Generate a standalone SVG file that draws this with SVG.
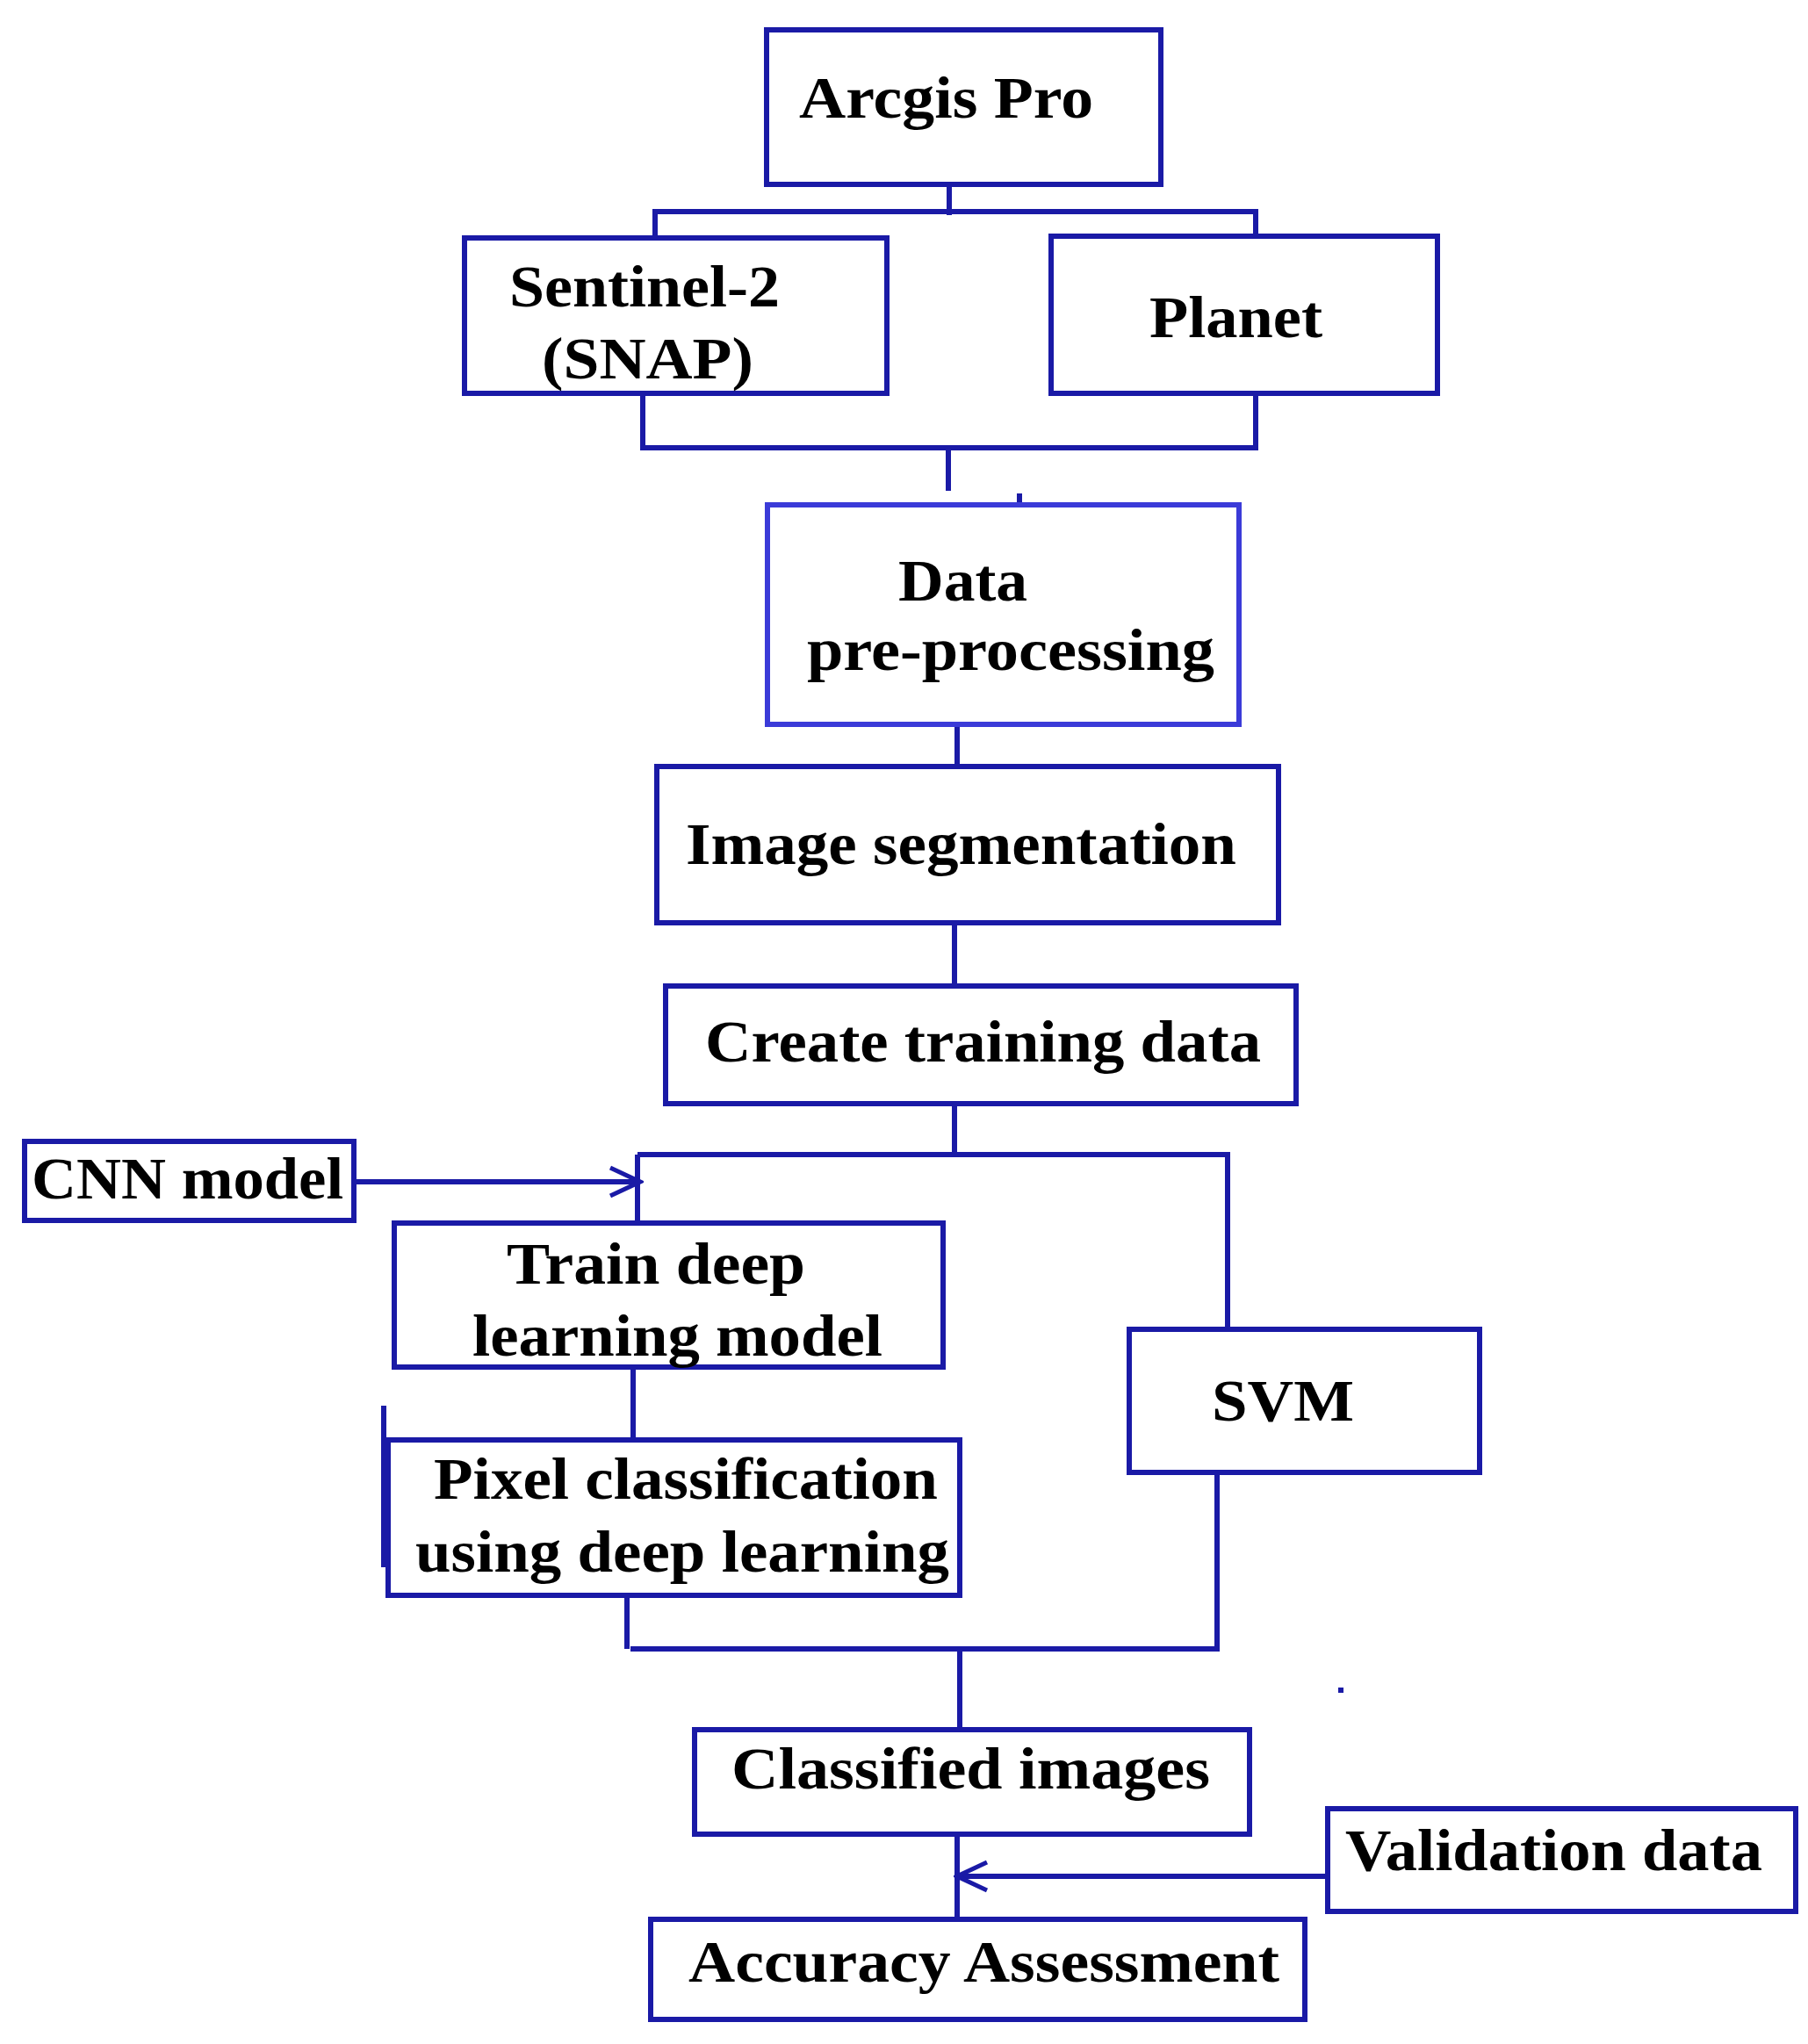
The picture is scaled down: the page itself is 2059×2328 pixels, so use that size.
<svg xmlns="http://www.w3.org/2000/svg" width="2059" height="2328" viewBox="0 0 2059 2328">
<style>
.b{fill:#fff;stroke:#1a1aa6;stroke-width:6}
.l{fill:none;stroke:#1a1aa6;stroke-width:6}
text{font-family:"Liberation Serif","Times New Roman",serif;font-weight:bold;font-size:68px;fill:#000}
</style>
<defs><marker id="a" markerWidth="14" markerHeight="14" refX="12" refY="7" orient="auto" markerUnits="userSpaceOnUse" viewBox="0 0 14 14"><path d="M1,1 L12,7 L1,13" fill="none" stroke="#1a1aa6" stroke-width="3"/></marker>
<marker id="a2" markerWidth="40" markerHeight="40" refX="36" refY="20" orient="auto" markerUnits="userSpaceOnUse"><path d="M2,4 L36,20 L2,36" fill="none" stroke="#1a1aa6" stroke-width="5"/></marker></defs>
<rect width="2059" height="2328" fill="#fff"/>
<g id="connectors">
<path class="l" d="M1081,210V245M746,271V241H1430V269"/>
<path class="l" d="M732,448V510H1430V448M1080,510V559M1161,562V574"/>
<path class="l" d="M1090,825V873M1087,1051V1123M1087,1257V1315M726,1315H1398V1514M726,1315V1393"/>
<path class="l" d="M721,1557V1640M437,1601V1785M714,1817V1878M1386,1677V1878H718M1093,1878V1970M1090,2089V2186"/>
<path class="l" d="M1527,1922V1928"/>
<path class="l" d="M403,1346H729" marker-end="url(#a2)"/>
<path class="l" d="M1512,2137H1090" marker-end="url(#a2)"/>
</g>
<g id="arcgis"><rect class="b" x="873" y="34" width="449" height="176"/><text x="910" y="134" textLength="335" lengthAdjust="spacingAndGlyphs">Arcgis Pro</text></g>
<g id="sentinel"><rect class="b" x="529" y="271" width="481" height="177"/><text x="580" y="349" textLength="308" lengthAdjust="spacingAndGlyphs">Sentinel-2</text><text x="617" y="431" textLength="241" lengthAdjust="spacingAndGlyphs">(SNAP)</text></g>
<g id="planet"><rect class="b" x="1197" y="269" width="440" height="179"/><text x="1309" y="384" textLength="197" lengthAdjust="spacingAndGlyphs">Planet</text></g>
<g id="prep"><rect class="b" x="874" y="575" width="537" height="250" style="stroke:#3b3bd8"/><text x="1023" y="684" textLength="147" lengthAdjust="spacingAndGlyphs">Data</text><text x="919" y="763" textLength="464" lengthAdjust="spacingAndGlyphs">pre-processing</text></g>
<g id="seg"><rect class="b" x="748" y="873" width="708" height="178"/><text x="781" y="984" textLength="627" lengthAdjust="spacingAndGlyphs">Image segmentation</text></g>
<g id="create"><rect class="b" x="758" y="1123" width="718" height="134"/><text x="803" y="1209" textLength="633" lengthAdjust="spacingAndGlyphs">Create training data</text></g>
<g id="cnn"><rect class="b" x="28" y="1300" width="375" height="90"/><text x="36" y="1365" textLength="355" lengthAdjust="spacingAndGlyphs">CNN model</text></g>
<g id="train"><rect class="b" x="449" y="1393" width="625" height="164"/><text x="577" y="1462" textLength="340" lengthAdjust="spacingAndGlyphs">Train deep</text><text x="538" y="1544" textLength="467" lengthAdjust="spacingAndGlyphs">learning model</text></g>
<g id="svm"><rect class="b" x="1286" y="1514" width="399" height="163"/><text x="1380" y="1618" textLength="162" lengthAdjust="spacingAndGlyphs">SVM</text></g>
<g id="pixel"><rect class="b" x="442" y="1640" width="651" height="177"/><text x="494" y="1707" textLength="574" lengthAdjust="spacingAndGlyphs">Pixel classification</text><text x="473" y="1790" textLength="608" lengthAdjust="spacingAndGlyphs">using deep learning</text></g>
<g id="classified"><rect class="b" x="791" y="1970" width="632" height="119"/><text x="833" y="2037" textLength="545" lengthAdjust="spacingAndGlyphs">Classified images</text></g>
<g id="validation"><rect class="b" x="1512" y="2060" width="533" height="117"/><text x="1532" y="2130" textLength="475" lengthAdjust="spacingAndGlyphs">Validation data</text></g>
<g id="accuracy"><rect class="b" x="741" y="2186" width="745" height="114"/><text x="784" y="2257" textLength="673" lengthAdjust="spacingAndGlyphs">Accuracy Assessment</text></g>
</svg>
